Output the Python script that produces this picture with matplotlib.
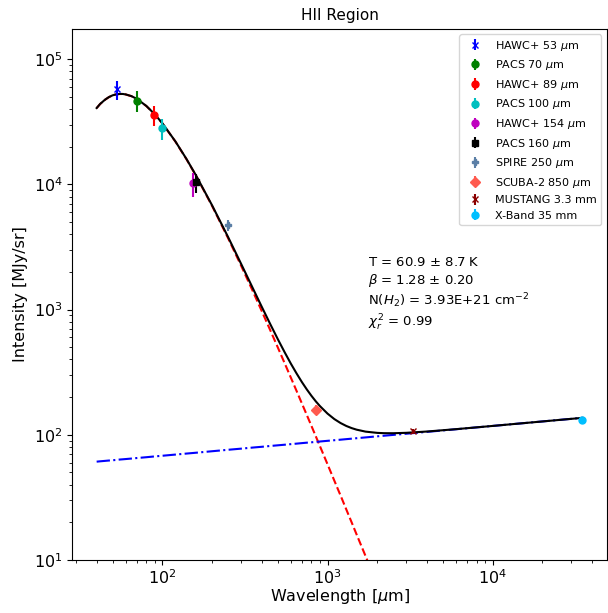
import matplotlib
matplotlib.use("Agg")
import matplotlib.pyplot as plt

# measured points (wavelength in micron, intensity in MJy/sr)
bandas = ["HAWC+ 53 $\\mu$m", "PACS 70 $\\mu$m", "HAWC+ 89 $\\mu$m", "PACS 100 $\\mu$m",
          "HAWC+ 154 $\\mu$m", "PACS 160 $\\mu$m", "SPIRE 250 $\\mu$m", "SCUBA-2 850 $\\mu$m",
          "MUSTANG 3.3 mm", "X-Band 35 mm"]
lam = [53, 70, 89, 100, 154, 160, 250, 850, 3300, 35000]
inten = [57500, 46500, 35800, 28000, 10200, 10400, 4730, 158, 107, 131]
erro = [10000, 8800, 6700, 5500, 2250, 1800, 450, 15, 5, 3]
cores = ["b", "g", "r", "c", "m", "k", "#5b7fa6", "#ff5a4e", "darkred", "deepskyblue"]
marcadores = ["x", "o", "o", "o", "o", "s", "P", "D", "x", "o"]

# model curves
lam_mod = [40, 42, 45, 47.5, 50, 52, 55, 57.5, 60, 65,
           70, 80, 90, 100, 120, 140, 160, 200, 250, 300,
           350, 400, 450, 500, 550, 600, 650, 700, 750, 800,
           850, 900, 1000, 1100, 1200, 1300, 1400, 1500, 1700, 2000,
           2200, 2500, 3000, 4000, 6000, 10000, 20000, 35000]
total = [40760, 43960, 47570, 49890, 51500, 52260, 52830, 52800, 52360, 50720,
         48270, 42340, 36290, 30790, 22040, 15960, 11780, 6810, 3800, 2317,
         1517, 1052, 766.4, 581, 456.8, 370, 308.7, 263.5, 230.0, 204.5,
         184.8, 169.5, 147.7, 133.5, 124.1, 117.6, 113.1, 109.9, 106.0, 103.6,
         103.0, 102.9, 103.7, 106.2, 110.9, 117.7, 127.8, 136.6]
poeira = [40700, 43900, 47510, 49830, 51440, 52200, 52770, 52740, 52300, 50660,
          48200, 42270, 36220, 30720, 21970, 15890, 11710, 6735, 3721, 2239,
          1438, 972, 685, 499, 373.5, 286, 223.7, 177.7, 143.5, 117.4,
          97.0, 81.1, 58.2, 43.0, 32.7, 25.3, 19.98, 16.0, 10.74, 6.37,
          4.66, 3.10, 1.72, 0.67, 0.177, 0.033, 0.004, 0.0008]
livre = [61.0, 61.4, 61.9, 62.3, 62.6, 62.9, 63.4, 63.7, 64.0, 64.6,
         65.2, 66.2, 67.2, 68.0, 69.5, 70.8, 71.9, 73.9, 75.9, 77.5,
         79.0, 80.2, 81.4, 82.4, 83.3, 84.2, 85.0, 85.8, 86.5, 87.1,
         87.8, 88.4, 89.5, 90.5, 91.4, 92.3, 93.1, 93.9, 95.3, 97.2,
         98.3, 99.8, 102.0, 105.5, 110.7, 117.7, 127.8, 136.6]

fig = plt.figure(figsize=(6.08, 6.13), dpi=100)
ax = fig.add_axes([0.119, 0.0865, 0.879, 0.8665])

ax.plot(lam_mod, poeira, "r--", lw=1.5)
ax.plot(lam_mod, livre, "b-.", lw=1.5)
ax.plot(lam_mod, total, "k-", lw=1.5)

for i in range(len(lam)):
    ax.errorbar(lam[i], inten[i], yerr=erro[i], fmt=marcadores[i], color=cores[i],
                markersize=5, label=bandas[i])

ax.set_xscale("log")
ax.set_yscale("log")
ax.set_ylim(10, 1.75e5)

ax.set_xlabel("Wavelength [$\\mu$m]", fontsize=11.5, labelpad=0)
ax.set_ylabel("Intensity [MJy/sr]", fontsize=11.5)
ax.set_title("HII Region", fontsize=11)
ax.tick_params(labelsize=11.5)
ax.tick_params(axis="x", pad=2.5)

texto = ("T = 60.9 $\\pm$ 8.7 K\n$\\beta$ = 1.28 $\\pm$ 0.20\n"
         "N($H_2$) = 3.93E+21 cm$^{-2}$\n$\\chi_r^2$ = 0.99")
ax.text(0.553, 0.572, texto, transform=ax.transAxes, fontsize=9.5, ha="left", va="top")

ax.legend(loc="upper right", fontsize=8)

plt.savefig("out.png")
